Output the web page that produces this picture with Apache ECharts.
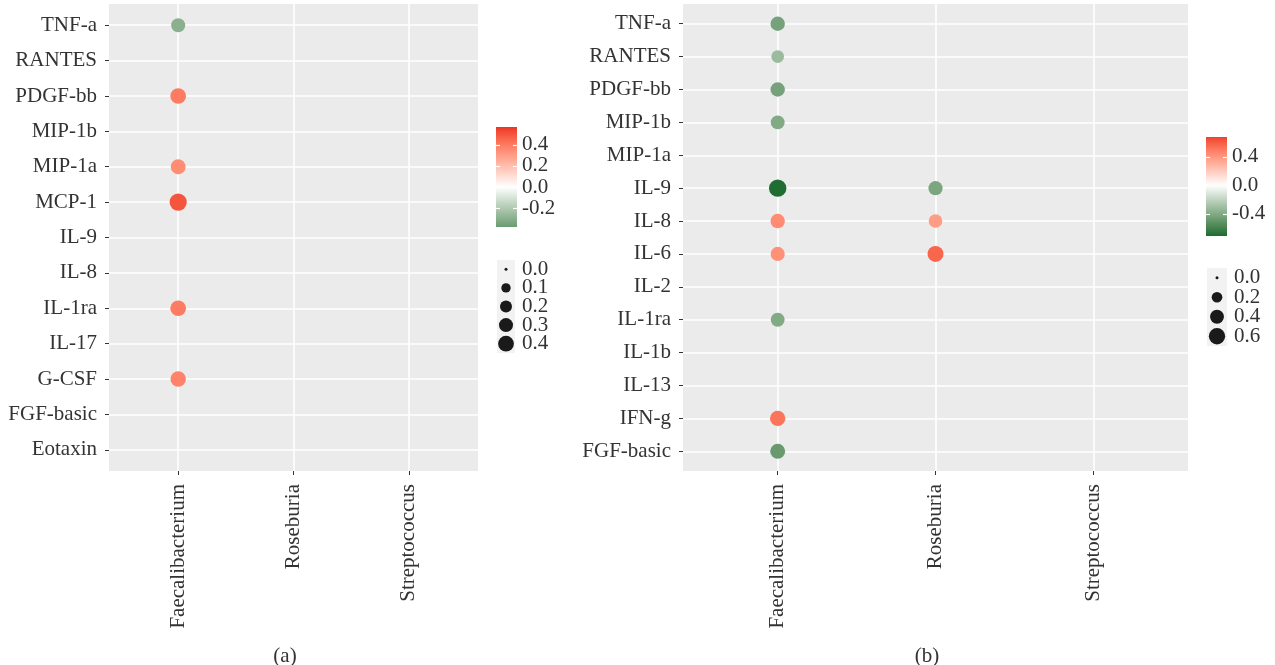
<!DOCTYPE html>
<html><head><meta charset="utf-8">
<script src="https://cdn.jsdelivr.net/npm/echarts@6/dist/echarts.min.js"></script>
<style>html,body{margin:0;padding:0;background:#fff}#c{width:1275px;height:665px}</style>
</head><body><div id="c"></div>
<script>
// ---------- data ----------
const genera = ['Faecalibacterium', 'Roseburia', 'Streptococcus'];

const cytokinesA = ['TNF-a', 'RANTES', 'PDGF-bb', 'MIP-1b', 'MIP-1a', 'MCP-1', 'IL-9', 'IL-8', 'IL-1ra', 'IL-17', 'G-CSF', 'FGF-basic', 'Eotaxin'];
const faecalibacteriumA = [-0.30, null, 0.40, null, 0.35, 0.50, null, null, 0.40, null, 0.38, null, null];
const roseburiaA = [null, null, null, null, null, null, null, null, null, null, null, null, null];
const streptococcusA = [null, null, null, null, null, null, null, null, null, null, null, null, null];

const cytokinesB = ['TNF-a', 'RANTES', 'PDGF-bb', 'MIP-1b', 'MIP-1a', 'IL-9', 'IL-8', 'IL-6', 'IL-2', 'IL-1ra', 'IL-1b', 'IL-13', 'IFN-g', 'FGF-basic'];
const faecalibacteriumB = [-0.44, -0.32, -0.44, -0.40, null, -0.70, 0.44, 0.42, null, -0.40, null, null, 0.52, -0.48];
const roseburiaB = [null, null, null, null, null, -0.42, 0.38, 0.57, null, null, null, null, null, null];
const streptococcusB = [null, null, null, null, null, null, null, null, null, null, null, null, null, null];

const colorLimitsA = [-0.38, 0.57];
const colorTicksA = [-0.2, 0.0, 0.2, 0.4];
const sizeLimitA = 0.52;
const sizeBreaksA = [0.0, 0.1, 0.2, 0.3, 0.4];

const colorLimitsB = [-0.71, 0.68];
const colorTicksB = [-0.4, 0.0, 0.4];
const sizeLimitB = 0.71;
const sizeBreaksB = [0.0, 0.2, 0.4, 0.6];

const panelLabels = ['(a)', '(b)'];

// ---------- styling helpers ----------
const FONT = '"Liberation Serif", "DejaVu Serif", serif';
const TXT = '#333333';
const LOW = '#1a6b30', MID = '#ffffff', HIGH = '#ec3424';

function hex2rgb(h) { h = h.replace('#', ''); return [0, 2, 4].map(i => parseInt(h.substr(i, 2), 16)); }
function lin(c) { c /= 255; return c <= 0.04045 ? c / 12.92 : Math.pow((c + 0.055) / 1.055, 2.4); }
function delin(c) { c = c <= 0.0031308 ? 12.92 * c : 1.055 * Math.pow(c, 1 / 2.4) - 0.055; return Math.max(0, Math.min(255, Math.round(c * 255))); }
function rgb2lab(rgb) {
  const [r, g, b] = rgb.map(lin);
  let x = (0.4124 * r + 0.3576 * g + 0.1805 * b) / 0.95047;
  let y = (0.2126 * r + 0.7152 * g + 0.0722 * b);
  let z = (0.0193 * r + 0.1192 * g + 0.9505 * b) / 1.08883;
  const f = t => t > 0.008856 ? Math.cbrt(t) : 7.787 * t + 16 / 116;
  x = f(x); y = f(y); z = f(z);
  return [116 * y - 16, 500 * (x - y), 200 * (y - z)];
}
function lab2rgb(lab) {
  const [L, a, b] = lab;
  let y = (L + 16) / 116, x = a / 500 + y, z = y - b / 200;
  const fi = t => t * t * t > 0.008856 ? t * t * t : (t - 16 / 116) / 7.787;
  x = fi(x) * 0.95047; y = fi(y); z = fi(z) * 1.08883;
  const r = 3.2406 * x - 1.5372 * y - 0.4986 * z;
  const g = -0.9689 * x + 1.8758 * y + 0.0415 * z;
  const bb = 0.0557 * x - 0.2040 * y + 1.0570 * z;
  return [r, g, bb].map(delin);
}
const LAB_LOW = rgb2lab(hex2rgb(LOW)), LAB_MID = rgb2lab(hex2rgb(MID)), LAB_HIGH = rgb2lab(hex2rgb(HIGH));
function gradient2(v, lim) {
  let t = Math.max(-1, Math.min(1, v / lim));
  const end = t >= 0 ? LAB_HIGH : LAB_LOW;
  t = Math.abs(t);
  const lab = LAB_MID.map((m, i) => m + (end[i] - m) * t);
  const c = lab2rgb(lab);
  return 'rgb(' + c.join(',') + ')';
}
function dotSize(v, lim) { return 3 + 14.5 * Math.sqrt(Math.min(1, Math.abs(v) / lim)); }
function barGradient(limits) {
  const lim = Math.max(Math.abs(limits[0]), Math.abs(limits[1]));
  const stops = [];
  for (let k = 0; k <= 40; k++) {
    const v = limits[1] - (limits[1] - limits[0]) * k / 40;
    stops.push({ offset: k / 40, color: gradient2(v, lim) });
  }
  return { type: 'linear', x: 0, y: 0, x2: 0, y2: 1, colorStops: stops };
}
function buildPoints(cols) {
  const out = [];
  cols.forEach((arr, g) => arr.forEach((v, i) => { if (v !== null) out.push([g, i, v]); }));
  return out;
}
const idx = arr => arr.map((_, i) => i);

const pointsA = buildPoints([faecalibacteriumA, roseburiaA, streptococcusA]);
const pointsB = buildPoints([faecalibacteriumB, roseburiaB, streptococcusB]);
const colorLimA = Math.max(Math.abs(colorLimitsA[0]), Math.abs(colorLimitsA[1]));
const colorLimB = Math.max(Math.abs(colorLimitsB[0]), Math.abs(colorLimitsB[1]));

const lbl = { fontFamily: FONT, fontSize: 21, color: TXT };

function mainX(gi) {
  return {
    gridIndex: gi, type: 'value', min: -0.6, max: genera.length - 0.4,
    axisLine: { show: false, onZero: false },
    axisTick: { show: true, customValues: idx(genera), length: 4, lineStyle: { color: TXT, width: 1 } },
    axisLabel: Object.assign({ customValues: idx(genera), rotate: 90, margin: 13, formatter: v => genera[Math.round(v)] }, lbl),
    splitLine: { show: true, lineStyle: { color: '#ffffff', width: 1.6 } }
  };
}
function mainY(gi, cats) {
  return {
    gridIndex: gi, type: 'value', inverse: true, min: -0.6, max: cats.length - 0.4,
    axisLine: { show: false, onZero: false },
    axisTick: { show: true, customValues: idx(cats), length: 4, lineStyle: { color: TXT, width: 1 } },
    axisLabel: Object.assign({ customValues: idx(cats), margin: 12, padding: [4, 0, 0, 0], formatter: v => cats[Math.round(v)] }, lbl),
    splitLine: { show: true, lineStyle: { color: '#ffffff', width: 1.6 } }
  };
}
function barY(gi, limits, ticks, pos, showLabel) {
  return {
    gridIndex: gi, type: 'value', min: limits[0], max: limits[1], position: pos,
    axisLine: { show: false, onZero: false },
    axisTick: { show: true, inside: true, customValues: ticks, length: 4, lineStyle: { color: '#ffffff', width: 1.2 } },
    axisLabel: Object.assign({ show: showLabel, customValues: ticks, margin: 5, padding: [3, 0, 0, 0], formatter: v => v.toFixed(1) }, lbl),
    splitLine: { show: false }
  };
}
function sizeY(gi, breaks) {
  return {
    gridIndex: gi, type: 'category', inverse: true, position: 'right',
    data: breaks.map(v => v.toFixed(1)),
    axisLine: { show: false, onZero: false }, axisTick: { show: false },
    axisLabel: Object.assign({ margin: 7, interval: 0, padding: [3, 0, 0, 0] }, lbl),
    splitLine: { show: false }
  };
}
const hiddenX = gi => ({ gridIndex: gi, type: 'value', show: false, min: 0, max: 1 });
const hiddenCatX = gi => ({ gridIndex: gi, type: 'category', show: false, data: ['k'] });

const option = {
  backgroundColor: '#ffffff',
  animation: false,
  title: [
    { text: panelLabels[0], left: 280, top: 641, textAlign: 'center', textStyle: { fontFamily: FONT, fontSize: 21, fontWeight: 'normal', color: TXT } },
    { text: panelLabels[1], left: 922, top: 641, textAlign: 'center', textStyle: { fontFamily: FONT, fontSize: 21, fontWeight: 'normal', color: TXT } }
  ],
  grid: [
    { left: 109, top: 4, width: 369, height: 467, show: true, backgroundColor: '#ebebeb', borderWidth: 0 },
    { left: 683, top: 4, width: 505, height: 467, show: true, backgroundColor: '#ebebeb', borderWidth: 0 },
    { left: 496, top: 127, width: 21, height: 100, show: true, backgroundColor: barGradient(colorLimitsA), borderWidth: 0 },
    { left: 1206, top: 137, width: 21, height: 99, show: true, backgroundColor: barGradient(colorLimitsB), borderWidth: 0 },
    { left: 497, top: 260, width: 18, height: 93, show: true, backgroundColor: '#f2f2f2', borderWidth: 0 },
    { left: 1207, top: 268, width: 20, height: 78, show: true, backgroundColor: '#f2f2f2', borderWidth: 0 }
  ],
  xAxis: [mainX(0), mainX(1), hiddenX(2), hiddenX(3), hiddenCatX(4), hiddenCatX(5)],
  yAxis: [
    mainY(0, cytokinesA), mainY(1, cytokinesB),
    barY(2, colorLimitsA, colorTicksA, 'right', true), barY(2, colorLimitsA, colorTicksA, 'left', false),
    barY(3, colorLimitsB, colorTicksB, 'right', true), barY(3, colorLimitsB, colorTicksB, 'left', false),
    sizeY(4, sizeBreaksA), sizeY(5, sizeBreaksB)
  ],
  series: [
    {
      type: 'scatter', xAxisIndex: 0, yAxisIndex: 0, data: pointsA,
      symbolSize: v => dotSize(v[2], sizeLimitA),
      itemStyle: { color: p => gradient2(p.value[2], colorLimA), opacity: 1 }, silent: true
    },
    {
      type: 'scatter', xAxisIndex: 1, yAxisIndex: 1, data: pointsB,
      symbolSize: v => dotSize(v[2], sizeLimitB),
      itemStyle: { color: p => gradient2(p.value[2], colorLimB), opacity: 1 }, silent: true
    },
    {
      type: 'scatter', xAxisIndex: 4, yAxisIndex: 6, data: sizeBreaksA.map((v, i) => [0, i, v]),
      symbolSize: v => dotSize(v[2], sizeLimitA),
      itemStyle: { color: '#1a1a1a', opacity: 1 }, silent: true
    },
    {
      type: 'scatter', xAxisIndex: 5, yAxisIndex: 7, data: sizeBreaksB.map((v, i) => [0, i, v]),
      symbolSize: v => dotSize(v[2], sizeLimitB),
      itemStyle: { color: '#1a1a1a', opacity: 1 }, silent: true
    }
  ]
};
const chart = echarts.init(document.getElementById('c'), null, { renderer: 'canvas' });
chart.setOption(option);
</script>
</body></html>
